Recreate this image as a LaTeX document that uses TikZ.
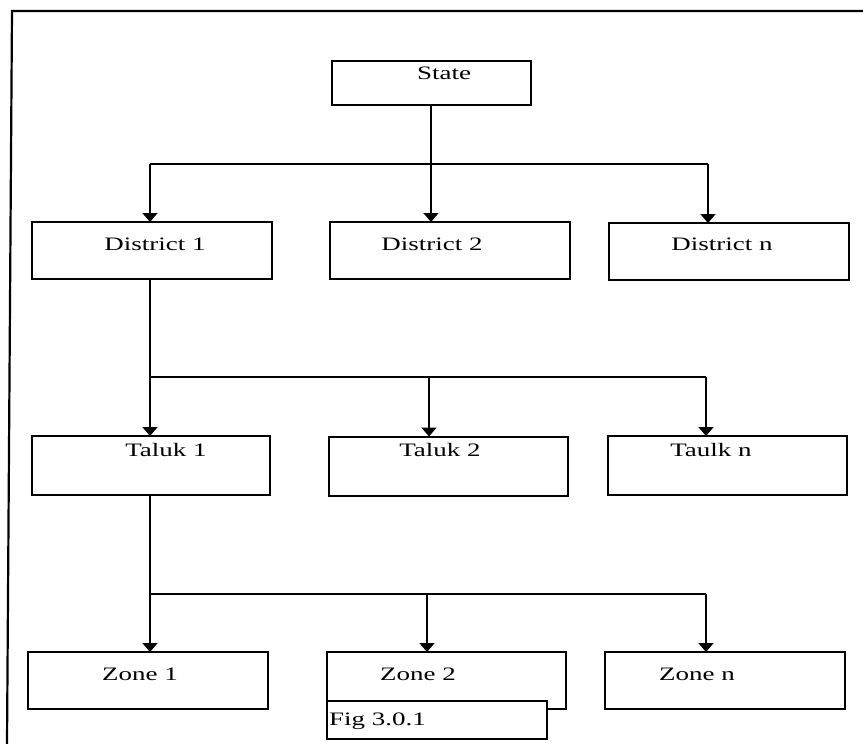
\documentclass[tikz,border=0pt]{standalone}
\usepackage{fontspec}
\setmainfont[FakeStretch=1.42]{Liberation Serif}
\usetikzlibrary{arrows.meta}

\begin{document}
\begin{tikzpicture}[x=1pt, y=-1pt,
  box/.style={draw, line width=2pt, rectangle, inner sep=0pt, outer sep=0pt,
    minimum width=240pt, minimum height=57pt},
  lbl/.style={anchor=base, inner sep=0pt, font=\fontsize{19pt}{22pt}\selectfont},
  link/.style={line width=1.8pt},
  arrow/.style={line width=1.8pt, -{Triangle[width=15pt, length=9pt]}}
]
% canvas
\useasboundingbox (0,0) rectangle (863,744);
\fill[white] (0,0) rectangle (863,744);

% outer frame (top and left sides)
\draw[line width=2.2pt] (7,744) -- (12,11) -- (863,11);

% level 0
\node[box, minimum width=199pt, minimum height=44pt] (state) at (431,83) {};
\node[lbl] (statet) at (444,79) {State};

% level 1
\node[box] (d1) at (152,250.5) {};
\node[box] (d2) at (450,250.5) {};
\node[box] (dn) at (729,251.5) {};
\node[lbl] (d1t) at (155,250) {District 1};
\node[lbl] (d2t) at (432,250) {District 2};
\node[lbl] (dnt) at (722,250) {District n};

% level 2
\node[box, minimum width=238pt, minimum height=59pt] (t1) at (151,465.5) {};
\node[box, minimum width=239pt, minimum height=59pt] (t2) at (448.5,466) {};
\node[box, minimum width=239pt, minimum height=59pt] (tn) at (727.5,465.5) {};
\node[lbl] (t1t) at (166,456) {Taluk 1};
\node[lbl] (t2t) at (440,456) {Taluk 2};
\node[lbl] (tnt) at (711,456) {Taulk n};

% level 3
\node[box] (z1) at (148,680.5) {};
\node[box, minimum width=239pt] (z2) at (446.5,680.5) {};
\node[box] (zn) at (725,680.5) {};
\node[lbl] (z1t) at (140,680) {Zone 1};
\node[lbl] (z2t) at (418,680) {Zone 2};
\node[lbl] (znt) at (697,680) {Zone n};

% caption box
\node[draw, fill=white, line width=1.6pt, rectangle, inner sep=0pt,
  minimum width=220pt, minimum height=38pt] (fig) at (437,720) {};
\node[lbl, anchor=base west] (figt) at (329,725) {Fig 3.0.1};

% state -> districts
\coordinate (b1l) at (150,164);
\coordinate (b1r) at (708,164);
\draw[link] (b1l) -- (b1r);
\draw[arrow] (state.south) -- (state.south |- d2.north);
\draw[arrow] (b1l) -- (b1l |- d1.north);
\draw[arrow] (b1r) -- (b1r |- dn.north);

% district 1 -> taluks
\coordinate (b2l) at (150,377);
\coordinate (b2m) at (429,377);
\coordinate (b2r) at (706,377);
\draw[link] (b2l |- d1.south) -- (b2l) -- (b2r);
\draw[arrow] (b2l) -- (b2l |- t1.north);
\draw[arrow] (b2m) -- (b2m |- t2.north);
\draw[arrow] (b2r) -- (b2r |- tn.north);

% taluk 1 -> zones
\coordinate (b3l) at (150,594);
\coordinate (b3m) at (427,594);
\coordinate (b3r) at (706,594);
\draw[link] (b3l |- t1.south) -- (b3l) -- (b3r);
\draw[arrow] (b3l) -- (b3l |- z1.north);
\draw[arrow] (b3m) -- (b3m |- z2.north);
\draw[arrow] (b3r) -- (b3r |- zn.north);
\end{tikzpicture}
\end{document}
